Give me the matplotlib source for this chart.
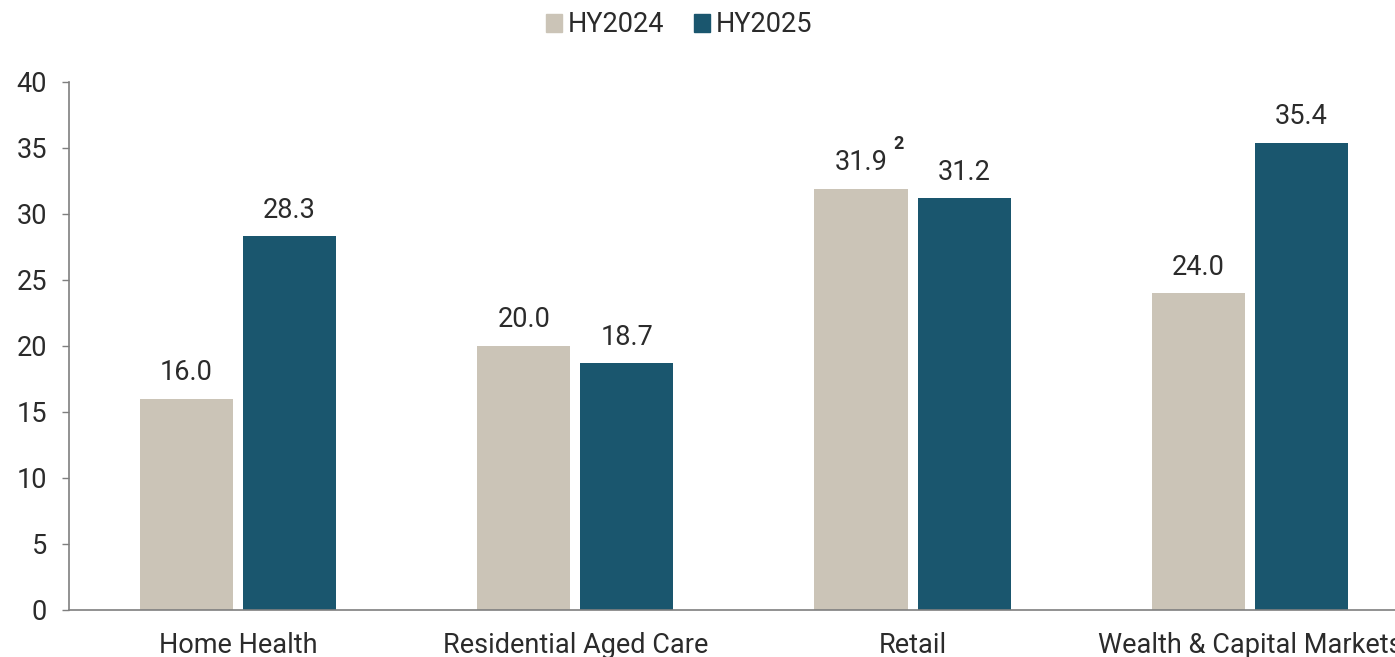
import matplotlib
matplotlib.use("Agg")
import matplotlib.pyplot as plt
from matplotlib.patches import Patch
import numpy as np

categories = ["Home Health", "Residential Aged Care", "Retail", "Wealth & Capital Markets"]
hy2024 = [16.0, 20.0, 31.9, 24.0]
hy2025 = [28.3, 18.7, 31.2, 35.4]
series_names = ["HY2024", "HY2025"]
footnotes_2024 = ["", "", "2", ""]
yticks = [0, 5, 10, 15, 20, 25, 30, 35, 40]

plt.rcParams["font.family"] = ["Roboto", "DejaVu Sans"]
TEXT = "#2b2b2b"
C24 = "#CBC4B7"
C25 = "#1A566E"
FS = 19.5

fig = plt.figure(figsize=(13.95, 6.57), dpi=100)
ax = fig.add_axes([69 / 1395, 1 - 610 / 657, 1 - 69 / 1395, (610 - 82) / 657])

x = np.arange(len(categories))
w = 0.276
off = 0.153
b1 = ax.bar(x - off, hy2024, w, color=C24)
b2 = ax.bar(x + off, hy2025, w, color=C25)

for bars, vals in ((b1, hy2024), (b2, hy2025)):
    for r, v in zip(bars, vals):
        ax.annotate(f"{v:.1f}", (r.get_x() + r.get_width() / 2, v),
                    xytext=(0, 9), textcoords="offset points",
                    ha="center", va="bottom", fontsize=FS, color=TEXT)

for r, v, note in zip(b1, hy2024, footnotes_2024):
    if note:
        ax.annotate(note, (r.get_x() + r.get_width() / 2, v),
                    xytext=(27, 26), textcoords="offset points",
                    ha="center", va="bottom", fontsize=13, fontweight="bold", color=TEXT)

ax.set_ylim(0, 40)
ax.set_yticks(yticks)
ax.set_xlim(-0.501, 3.430)
ax.set_xticks(x)
ax.set_xticklabels(categories)
ax.tick_params(axis="x", length=0, pad=16, labelsize=FS, labelcolor=TEXT)
ax.tick_params(axis="y", length=5, width=1, color="#7f7f7f", pad=11, labelsize=FS, labelcolor=TEXT)

for s in ("top", "right"):
    ax.spines[s].set_visible(False)
for s in ("left", "bottom"):
    ax.spines[s].set_color("#7f7f7f")
    ax.spines[s].set_linewidth(1.2)

handles = [Patch(color=C24), Patch(color=C25)]
fig.legend(handles, series_names, loc="center", bbox_to_anchor=(679 / 1395, 1 - 25 / 657),
           ncol=2, frameon=False, fontsize=FS, handlelength=0.6, handleheight=0.6,
           handletextpad=0.2, columnspacing=1.1, labelcolor=TEXT)

fig.savefig("out.png", dpi=100)
